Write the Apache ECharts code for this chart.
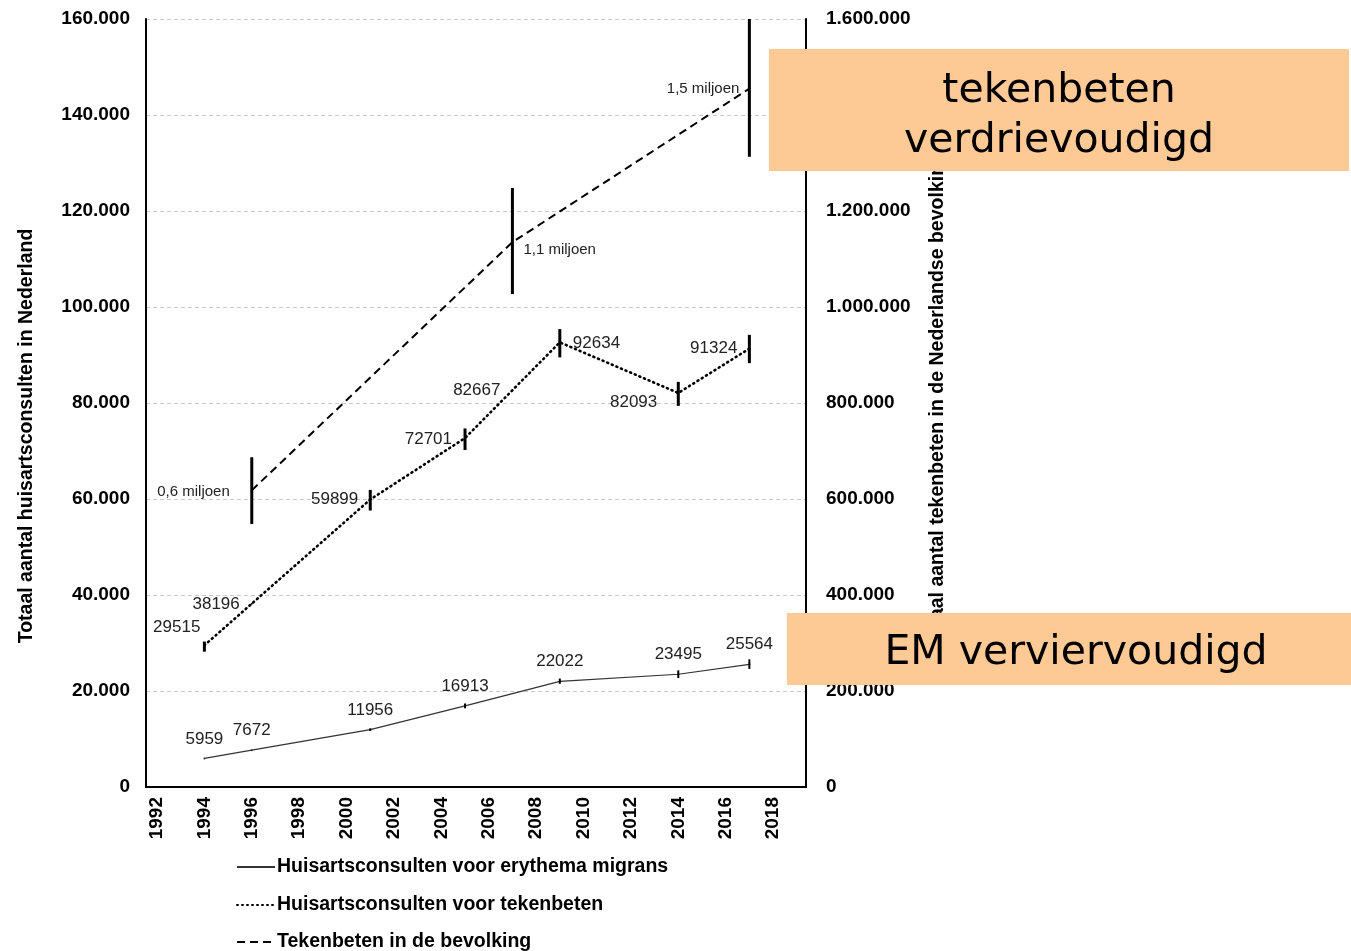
<!DOCTYPE html>
<html>
<head>
<meta charset="utf-8">
<script src="https://cdn.jsdelivr.net/npm/echarts@6/dist/echarts.min.js"></script>
<style>
html,body{margin:0;padding:0;background:#fff;}
#chart{width:1351px;height:951px;}
</style>
</head>
<body>
<div id="chart"></div>
<script>
// ---- data ----
const xTickLabels = [1992,1994,1996,1998,2000,2002,2004,2006,2008,2010,2012,2014,2016,2018];

const emYears  = [1994, 1996, 2001, 2005, 2009, 2014, 2017];
const emValues = [5959, 7672, 11956, 16913, 22022, 23495, 25564];
const emErrYears = [2001, 2005, 2009, 2014, 2017];
const emErrLow   = [11700, 16400, 21500, 22700, 24600];
const emErrHigh  = [12200, 17400, 22600, 24300, 26600];

const tickYears  = [1994, 1996, 2001, 2005, 2007, 2009, 2014, 2017];
const tickValues = [29515, 38196, 59899, 72701, 82667, 92634, 82093, 91324];
const tickErrYears = [1994, 2001, 2005, 2009, 2014, 2017];
const tickErrLow   = [28200, 57600, 70200, 89500, 79400, 88300];
const tickErrHigh  = [30300, 61900, 74700, 95400, 84400, 94200];

const popYears  = [1996, 2007, 2017];
const popValues = [618000, 1135000, 1455000];
const popLabels = ['0,6 miljoen', '1,1 miljoen', '1,5 miljoen'];
const popErrLow  = [548000, 1027000, 1313000];
const popErrHigh = [687000, 1248000, 1600000];

const seriesNames = ['Huisartsconsulten voor erythema migrans', 'Huisartsconsulten voor tekenbeten', 'Tekenbeten in de bevolking'];

// ---- label placement (style) ----
const tickLabelPos  = ['left','left','left','left','left','right','left','left'];
const tickLabelDist = [5, 11, 11, 12, 11, 12, 20, 11];
const tickLabelOff  = [[2,-18],[0,1],[0,0],[0,1],[0,0],[0,1],[0,9],[0,0]];
const popLabelPos  = ['left','right','left'];
const popLabelDist = [21, 10, 9];
const popLabelOff  = [[0,1],[0,8],[0,0]];
const legendTops = [857, 895, 932];

const FONT = '"Liberation Sans", Arial, sans-serif';

function dotFmt(v){ return String(v).replace(/\B(?=(\d{3})+(?!\d))/g, '.'); }

function errRender(width){
  return function(params, api){
    const x = api.value(0), lo = api.value(1), hi = api.value(2);
    const p1 = api.coord([x, lo]), p2 = api.coord([x, hi]);
    return {type:'line', shape:{x1:p1[0], y1:p1[1], x2:p2[0], y2:p2[1]},
            style:{stroke:'#000', lineWidth:width}};
  };
}

const chart = echarts.init(document.getElementById('chart'), null, {renderer:'canvas'});

const option = {
  animation:false,
  backgroundColor:'#fff',
  grid:{left:146, right:545, top:19, bottom:164},
  xAxis:{
    type:'value', min:1991.536, max:2019.39,
    axisLine:{show:true, lineStyle:{color:'#000', width:2}},
    axisTick:{show:false},
    splitLine:{show:false},
    axisLabel:{
      customValues:xTickLabels, rotate:90, margin:10,
      fontWeight:'bold', fontSize:19, color:'#000', fontFamily:FONT,
      formatter:v=>String(v)
    }
  },
  yAxis:[
    {
      type:'value', min:0, max:160000, interval:20000, position:'left',
      axisLine:{show:true, lineStyle:{color:'#000', width:2}},
      axisTick:{show:false},
      splitLine:{show:true, lineStyle:{color:'#c8c8c8', type:[4,3], width:1}},
      axisLabel:{margin:16, fontWeight:'bold', fontSize:19, color:'#000', fontFamily:FONT, formatter:dotFmt}
    },
    {
      type:'value', min:0, max:1600000, interval:200000, position:'right',
      axisLine:{show:true, lineStyle:{color:'#000', width:2}},
      axisTick:{show:false},
      splitLine:{show:false},
      axisLabel:{margin:20, fontWeight:'bold', fontSize:19, color:'#000', fontFamily:FONT, formatter:dotFmt}
    }
  ],
  legend:seriesNames.map((n,i)=>({
    data:[n], orient:'horizontal', left:236, top:legendTops[i], padding:0,
    itemWidth:38, itemHeight:14,
    itemStyle:{opacity:0},
    textStyle:{fontWeight:'bold', fontSize:19.5, color:'#000', fontFamily:FONT, padding:[0,0,0,-3]}
  })),
  series:[
    {
      name:seriesNames[0], type:'line', symbol:'circle', symbolSize:2,
      itemStyle:{color:'#333'},
      lineStyle:{color:'#333', width:1.2},
      data:emYears.map((y,i)=>[y, emValues[i]]),
      label:{show:true, position:'top', distance:10, fontSize:17, color:'#222', fontFamily:FONT,
             formatter:p=>String(p.value[1])},
      z:3
    },
    {
      name:seriesNames[1], type:'line', symbol:'circle', symbolSize:2,
      itemStyle:{color:'#000'},
      lineStyle:{color:'#000', width:2.6, type:[1,4], cap:'round'},
      data:tickYears.map((y,i)=>({
        value:[y, tickValues[i]],
        label:{position:tickLabelPos[i], distance:tickLabelDist[i], offset:tickLabelOff[i]}
      })),
      label:{show:true, fontSize:17, color:'#222', fontFamily:FONT, formatter:p=>String(p.value[1])},
      z:3
    },
    {
      name:seriesNames[2], type:'line', yAxisIndex:1, symbol:'circle', symbolSize:2,
      itemStyle:{color:'#000'},
      lineStyle:{color:'#000', width:2, type:[8,5]},
      data:popYears.map((y,i)=>({
        value:[y, popValues[i]],
        label:{position:popLabelPos[i], distance:popLabelDist[i], offset:popLabelOff[i]}
      })),
      label:{show:true, fontSize:15, color:'#222', fontFamily:FONT, formatter:p=>popLabels[p.dataIndex]},
      z:3
    },
    {
      type:'custom', renderItem:errRender(2),
      data:emErrYears.map((y,i)=>[y, emErrLow[i], emErrHigh[i]]), z:4, silent:true
    },
    {
      type:'custom', renderItem:errRender(3),
      data:tickErrYears.map((y,i)=>[y, tickErrLow[i], tickErrHigh[i]]), z:4, silent:true
    },
    {
      type:'custom', yAxisIndex:1, renderItem:errRender(3),
      data:popYears.map((y,i)=>[y, popErrLow[i], popErrHigh[i]]), z:4, silent:true
    }
  ],
  graphic:[
    {type:'text', x:27, y:436, rotation:Math.PI/2, z:50,
     style:{text:'Totaal aantal huisartsconsulten in Nederland', fill:'#000',
            font:'bold 19.5px ' + FONT, align:'center', verticalAlign:'middle'}},
    {type:'text', x:938, y:400, rotation:Math.PI/2, z:50,
     style:{text:'Totaal aantal tekenbeten in de Nederlandse bevolking', fill:'#000',
            font:'bold 19.5px ' + FONT, align:'center', verticalAlign:'middle'}},
    {type:'rect', shape:{x:769, y:49, width:580, height:122}, style:{fill:'#FDCA96'}, z:100},
    {type:'text', x:1059, y:116, z:101,
     style:{text:'tekenbeten\nverdrievoudigd', fill:'#000', font:'41px "DejaVu Sans", Verdana, sans-serif',
            lineHeight:50, align:'center', verticalAlign:'middle'}},
    {type:'rect', shape:{x:787, y:613, width:564, height:72}, style:{fill:'#FDCA96'}, z:100},
    {type:'text', x:1076, y:653, z:101,
     style:{text:'EM verviervoudigd', fill:'#000', font:'41px "DejaVu Sans", Verdana, sans-serif',
            align:'center', verticalAlign:'middle'}}
  ]
};
chart.setOption(option);
</script>
</body>
</html>
